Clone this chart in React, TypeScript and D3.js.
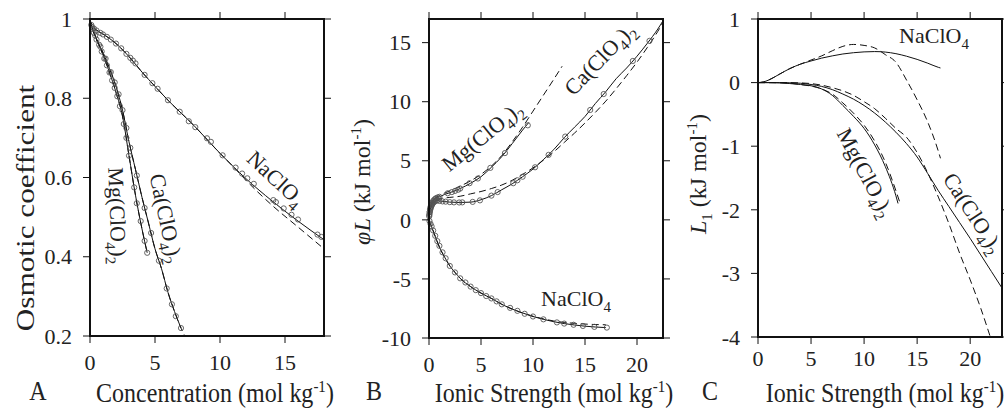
import React from "react";
import * as d3 from "d3";

type P = [number, number];

// ---- panel A : osmotic coefficient vs concentration (mol/kg)
const naOsmFit: P[] = [[0, 1], [0.1, 0.985], [0.5, 0.972], [1, 0.962], [2, 0.938], [3, 0.905], [4, 0.866], [5, 0.83], [6, 0.795], [8, 0.731], [10, 0.661], [12, 0.597], [14, 0.541], [16, 0.49], [18, 0.443]];
const naOsmAlt: P[] = [[0, 1], [0.1, 0.985], [0.5, 0.972], [1, 0.962], [2, 0.938], [3, 0.905], [4, 0.866], [5, 0.83], [6, 0.795], [8, 0.731], [10, 0.661], [11, 0.628], [12, 0.593], [14, 0.53], [16, 0.475], [18, 0.42]];
const naOsmObs: P[] = [[0.1, 0.985], [0.3, 0.976], [0.5, 0.971], [0.8, 0.965], [1.0, 0.961], [1.3, 0.955], [1.6, 0.948], [2.0, 0.938], [2.4, 0.926], [2.8, 0.912], [3.1, 0.902], [3.3, 0.895], [3.5, 0.888], [4.2, 0.859], [4.8, 0.838], [5.2, 0.824], [6.0, 0.795], [6.9, 0.766], [7.6, 0.742], [8.1, 0.727], [9.0, 0.699], [9.3, 0.69], [10.2, 0.656], [11.2, 0.625], [11.7, 0.61], [12.1, 0.598], [12.6, 0.584], [14.1, 0.543], [14.3, 0.538], [14.9, 0.522], [15.5, 0.506], [16.0, 0.494], [17.5, 0.456], [17.8, 0.45]];

const mgOsmFit: P[] = [[0, 1], [0.1, 0.985], [0.3, 0.965], [0.6, 0.94], [1, 0.91], [1.5, 0.865], [2, 0.815], [2.5, 0.755], [3, 0.655], [3.5, 0.555], [4, 0.47], [4.4, 0.41]];
const mgOsmObs: P[] = [[0.15, 0.98], [0.3, 0.965], [0.5, 0.948], [0.7, 0.935], [0.9, 0.918], [1.1, 0.9], [1.3, 0.883], [1.5, 0.865], [1.7, 0.845], [1.9, 0.826], [2.1, 0.805], [2.3, 0.78], [2.6, 0.735], [2.8, 0.7], [3.0, 0.655], [3.4, 0.575], [3.6, 0.535], [3.9, 0.49], [4.2, 0.44], [4.4, 0.41]];

const caOsmFit: P[] = [[0, 1], [0.1, 0.985], [0.3, 0.966], [0.6, 0.943], [1, 0.915], [1.5, 0.875], [2, 0.83], [2.5, 0.77], [3, 0.69], [3.5, 0.62], [4, 0.55], [4.5, 0.485], [5, 0.42], [5.5, 0.37], [6, 0.31], [6.5, 0.262], [7, 0.22]];
const caOsmAlt: P[] = [[0, 1], [0.1, 0.985], [0.3, 0.966], [0.6, 0.943], [1, 0.915], [1.5, 0.875], [2, 0.83], [2.5, 0.77], [3, 0.69], [3.5, 0.62], [4, 0.55], [4.5, 0.485], [5, 0.42], [5.5, 0.37], [6, 0.31], [6.5, 0.262], [7, 0.22], [7.3, 0.2]];
const caOsmObs: P[] = [[0.2, 0.975], [0.4, 0.958], [0.8, 0.93], [1.2, 0.9], [1.6, 0.866], [1.9, 0.84], [2.2, 0.81], [2.5, 0.77], [2.8, 0.725], [3.1, 0.675], [3.6, 0.605], [4.2, 0.523], [4.7, 0.46], [5.3, 0.39], [5.9, 0.32], [6.3, 0.28], [6.6, 0.25], [7.0, 0.22]];

// ---- panel B : phi L (kJ/mol) vs ionic strength
const naPhiFit: P[] = [[0, 0], [0.1, -0.25], [0.3, -0.7], [0.6, -1.4], [1, -2.3], [1.5, -3.15], [2, -3.9], [2.5, -4.45], [3, -4.95], [4, -5.65], [5, -6.2], [6, -6.65], [7, -7.15], [8, -7.55], [9, -7.88], [10, -8.18], [11, -8.42], [12, -8.62], [13, -8.78], [14, -8.9], [15, -9.0], [16, -9.07], [17, -9.12]];
const naPhiAlt: P[] = [[0, 0], [0.1, -0.25], [0.3, -0.7], [0.6, -1.4], [1, -2.3], [1.5, -3.15], [2, -3.9], [2.5, -4.45], [3, -4.95], [4, -5.65], [5, -6.2], [6, -6.65], [7, -7.15], [8, -7.55], [9, -7.88], [10, -8.16], [11, -8.38], [12, -8.56], [13, -8.68], [14, -8.76], [15, -8.82], [16, -8.86], [17, -8.88]];
const naPhiObs: P[] = [[0.05, -0.1], [0.15, -0.35], [0.25, -0.55], [0.4, -0.9], [0.6, -1.35], [0.8, -1.8], [1.0, -2.2], [1.3, -2.75], [1.6, -3.25], [2.0, -3.9], [2.5, -4.45], [3.0, -4.95], [3.5, -5.3], [4.0, -5.65], [4.5, -5.95], [5.0, -6.2], [5.5, -6.45], [6.0, -6.65], [6.5, -6.9], [7.0, -7.15], [7.8, -7.45], [8.5, -7.7], [9.2, -7.95], [10, -8.18], [11, -8.42], [12.3, -8.68], [13, -8.78], [13.9, -8.88], [14.8, -8.98], [15.9, -9.06], [17.1, -9.12]];

const caPhiFit: P[] = [[0, 0], [0.05, 0.5], [0.1, 0.8], [0.2, 1.1], [0.4, 1.45], [0.7, 1.65], [1, 1.6], [1.5, 1.55], [2, 1.5], [3, 1.47], [4, 1.5], [5, 1.7], [6, 2.05], [7, 2.55], [8, 3.05], [9, 3.65], [10, 4.3], [11, 5.1], [12, 5.95], [13, 6.95], [14, 7.85], [15, 8.75], [16, 9.85], [17, 10.85], [18, 11.95], [19, 12.85], [20, 13.85], [21, 14.95], [22, 16.15], [22.5, 16.85]];
const caPhiAlt: P[] = [[0, 0], [0.1, 0.8], [0.4, 1.5], [0.8, 1.75], [1.5, 1.85], [2, 1.9], [3, 2.0], [4, 2.2], [5, 2.4], [6, 2.65], [7, 2.95], [8, 3.35], [9, 3.85], [10, 4.4], [11, 5.05], [12, 5.75], [13, 6.55], [14, 7.35], [15, 8.2], [16, 9.1], [17, 10.05], [18, 11.1], [19, 12.2], [20, 13.35], [21, 14.6], [22, 15.95], [22.5, 16.7]];
const caPhiObs: P[] = [[0.02, 0.3], [0.05, 0.5], [0.08, 0.7], [0.12, 0.85], [0.16, 1.0], [0.2, 1.1], [0.25, 1.2], [0.3, 1.3], [0.35, 1.38], [0.45, 1.48], [0.55, 1.55], [0.65, 1.62], [0.8, 1.65], [1.0, 1.6], [1.3, 1.56], [1.6, 1.54], [2.0, 1.5], [2.4, 1.48], [2.9, 1.47], [3.2, 1.48], [4.2, 1.52], [4.9, 1.65], [6.0, 2.05], [6.6, 2.35], [8.1, 3.1], [8.5, 3.35], [9.0, 3.65], [10.2, 4.45], [11.5, 5.5], [13.1, 7.05], [15.5, 9.3], [16.8, 10.65], [19.6, 13.45], [21.2, 15.15]];

const mgPhiFit: P[] = [[0, 0], [0.05, 0.6], [0.1, 0.9], [0.2, 1.25], [0.4, 1.6], [0.7, 1.85], [1, 1.95], [1.5, 2.15], [2, 2.3], [3, 2.65], [4, 3.1], [5, 3.65], [6, 4.45], [7, 5.35], [8, 6.45], [9, 7.6], [9.6, 8.25]];
const mgPhiAlt: P[] = [[0, 0], [0.1, 0.9], [0.4, 1.65], [1, 2.05], [2, 2.45], [3, 2.85], [4, 3.3], [5, 3.85], [6, 4.55], [7, 5.45], [8, 6.6], [9, 7.85], [10, 9.2], [11, 10.55], [12, 11.9], [12.8, 13.0]];
const mgPhiObs: P[] = [[0.03, 0.4], [0.06, 0.65], [0.1, 0.9], [0.15, 1.1], [0.2, 1.25], [0.3, 1.45], [0.4, 1.6], [0.5, 1.7], [0.6, 1.78], [0.7, 1.85], [0.85, 1.9], [1.0, 1.95], [1.8, 2.25], [2.2, 2.35], [2.5, 2.45], [2.8, 2.55], [3.0, 2.65], [3.9, 3.1], [4.7, 3.5], [5.9, 4.4], [7.3, 5.65], [9.5, 8.0]];

// ---- panel C : L1 (kJ/mol) vs ionic strength
const naL1Fit: P[] = [[0, 0], [0.5, 0.01], [1, 0.04], [2, 0.13], [3, 0.22], [4, 0.29], [5, 0.34], [6, 0.385], [7, 0.42], [8, 0.45], [9, 0.47], [10, 0.483], [11, 0.488], [12, 0.48], [13, 0.455], [14, 0.415], [15, 0.365], [16, 0.305], [17, 0.24], [17.2, 0.23]];
const naL1Alt: P[] = [[0, 0], [0.5, 0.01], [1, 0.04], [2, 0.13], [3, 0.22], [4, 0.29], [5, 0.355], [6, 0.42], [7, 0.5], [8, 0.57], [9, 0.6], [10, 0.585], [11, 0.545], [12, 0.44], [13, 0.32], [14, 0.04], [15, -0.27], [16, -0.62], [17, -1.08], [17.2, -1.19]];
const mgL1Fit: P[] = [[0, 0], [1, 0], [2, -0.005], [3, -0.015], [4, -0.03], [5, -0.05], [6, -0.1], [7, -0.2], [8, -0.36], [9, -0.53], [10, -0.72], [11, -0.98], [12, -1.32], [13, -1.78], [13.2, -1.9]];
const mgL1Alt: P[] = [[0, 0], [2, 0], [4, -0.03], [6, -0.1], [7, -0.18], [8, -0.32], [9, -0.48], [10, -0.67], [11, -0.92], [12, -1.25], [13, -1.7], [13.4, -1.9]];
const caL1Fit: P[] = [[0, 0], [2, 0], [4, -0.01], [5, -0.03], [6, -0.06], [7, -0.11], [8, -0.18], [9, -0.26], [10, -0.36], [11, -0.48], [12, -0.62], [13, -0.78], [14, -0.96], [15, -1.17], [16, -1.43], [17, -1.7], [18, -1.95], [19, -2.2], [20, -2.45], [21, -2.71], [22, -2.97], [23, -3.23]];
const caL1Alt: P[] = [[0, 0], [2, 0], [4, -0.005], [6, -0.04], [7, -0.08], [8, -0.13], [9, -0.2], [10, -0.3], [11, -0.41], [12, -0.56], [13, -0.72], [14, -0.86], [15, -1.1], [16, -1.42], [17, -1.8], [18, -2.22], [19, -2.68], [20, -3.1], [21, -3.55], [21.9, -4.0]];

const osmTicks = [0.2, 0.4, 0.6, 0.8, 1];
const concTicks = [0, 5, 10, 15];
const phiTicks = [-10, -5, 0, 5, 10, 15];
const ionTicks = [0, 5, 10, 15, 20];
const l1Ticks = [-4, -3, -2, -1, 0, 1];

const FONT = "Liberation Serif";

type Series = { fit: P[]; alt?: P[]; obs?: P[] };
type Frame = { l: number; r: number; t: number; b: number };

function Panel(props: {
  id: string;
  frame: Frame;
  xDomain: [number, number];
  yDomain: [number, number];
  xTicks: number[];
  yTicks: number[];
  xLabelY: number;
  series: Series[];
}) {
  const { id, frame, xDomain, yDomain, xTicks, yTicks, xLabelY, series } = props;
  const x = d3.scaleLinear().domain(xDomain).range([frame.l, frame.r]);
  const y = d3.scaleLinear().domain(yDomain).range([frame.b, frame.t]);
  const line = d3
    .line<P>()
    .x((d) => x(d[0]))
    .y((d) => y(d[1]))
    .curve(d3.curveMonotoneX);
  const tk = 7;
  const fmt = (v: number) => String(+v.toFixed(1));

  return (
    <g>
      <defs>
        <clipPath id={id}>
          <rect x={frame.l} y={frame.t} width={frame.r - frame.l} height={frame.b - frame.t} />
        </clipPath>
      </defs>
      <g clipPath={`url(#${id})`}>
        {series.map((s, i) => (
          <g key={i}>
            {s.alt && (
              <path d={line(s.alt) || ""} fill="none" stroke="#111" strokeWidth={1} strokeDasharray="7,4" />
            )}
            <path d={line(s.fit) || ""} fill="none" stroke="#111" strokeWidth={1} />
          </g>
        ))}
      </g>
      {series.map((s, i) =>
        (s.obs || []).map((d, j) => (
          <circle key={i + "-" + j} cx={x(d[0])} cy={y(d[1])} r={2.6} fill="none" stroke="#555" strokeWidth={0.9} />
        ))
      )}
      <rect
        x={frame.l}
        y={frame.t}
        width={frame.r - frame.l}
        height={frame.b - frame.t}
        fill="none"
        stroke="#111"
        strokeWidth={2}
      />
      {xTicks.map((v) => (
        <g key={"x" + v}>
          <line x1={x(v)} x2={x(v)} y1={frame.b} y2={frame.b + tk} stroke="#111" />
          <line x1={x(v)} x2={x(v)} y1={frame.t} y2={frame.t - tk} stroke="#111" />
          <text x={x(v)} y={xLabelY} textAnchor="middle" fontSize={22} fontFamily={FONT} fill="#222">
            {fmt(v)}
          </text>
        </g>
      ))}
      {yTicks.map((v) => (
        <g key={"y" + v}>
          <line x1={frame.l - tk} x2={frame.l} y1={y(v)} y2={y(v)} stroke="#111" />
          <line x1={frame.r} x2={frame.r + tk} y1={y(v)} y2={y(v)} stroke="#111" />
          <text x={frame.l - 18} y={y(v)} dy="0.35em" textAnchor="end" fontSize={22} fontFamily={FONT} fill="#222">
            {fmt(v)}
          </text>
        </g>
      ))}
    </g>
  );
}

// chemical formula label, centred at (cx, cy), rotated by angle degrees
function Formula({ cx, cy, angle, parts }: { cx: number; cy: number; angle: number; parts: [string, boolean][] }) {
  let shift = 0;
  return (
    <text
      transform={`translate(${cx},${cy}) rotate(${angle})`}
      textAnchor="middle"
      dy="0.35em"
      fontSize={22}
      fontFamily={FONT}
      fill="#222"
    >
      {parts.map(([s, sub], i) => {
        const target = sub ? 6 : 0;
        const dy = target - shift;
        shift = target;
        return (
          <tspan key={i} dy={dy} fontSize={sub ? 15 : 22}>
            {s}
          </tspan>
        );
      })}
    </text>
  );
}

const NA: [string, boolean][] = [["NaClO", false], ["4", true]];
const CA: [string, boolean][] = [["Ca(ClO", false], ["4", true], [")", false], ["2", true]];
const MG: [string, boolean][] = [["Mg(ClO", false], ["4", true], [")", false], ["2", true]];

function UnitsTail() {
  return (
    <>
      <tspan>(mol kg</tspan>
      <tspan dy={-9} fontSize={15}>-1</tspan>
      <tspan dy={9}>)</tspan>
    </>
  );
}

function KJTail() {
  return (
    <>
      <tspan>(kJ mol</tspan>
      <tspan dy={-9} fontSize={15}>-1</tspan>
      <tspan dy={9}>)</tspan>
    </>
  );
}

export default function App() {
  const fA: Frame = { l: 90, r: 324, t: 19, b: 336 };
  const fB: Frame = { l: 429, r: 663, t: 19, b: 338 };
  const fC: Frame = { l: 758, r: 1002, t: 19, b: 337 };
  const title = { fontFamily: FONT, fontSize: 24, fill: "#222" } as const;

  return (
    <svg width={1004} height={411} style={{ position: "absolute", left: 0, top: 0, background: "#fff" }}>
      <rect width={1004} height={411} fill="#fff" />
      <Panel
        id="clipA"
        frame={fA}
        xDomain={[0, 18]}
        yDomain={[0.2, 1]}
        xTicks={concTicks}
        yTicks={osmTicks}
        xLabelY={370}
        series={[
          { fit: naOsmFit, alt: naOsmAlt, obs: naOsmObs },
          { fit: mgOsmFit, alt: mgOsmFit, obs: mgOsmObs },
          { fit: caOsmFit, alt: caOsmAlt, obs: caOsmObs },
        ]}
      />
      <Panel
        id="clipB"
        frame={fB}
        xDomain={[0, 22.5]}
        yDomain={[-10, 17]}
        xTicks={ionTicks}
        yTicks={phiTicks}
        xLabelY={372}
        series={[
          { fit: naPhiFit, alt: naPhiAlt, obs: naPhiObs },
          { fit: caPhiFit, alt: caPhiAlt, obs: caPhiObs },
          { fit: mgPhiFit, alt: mgPhiAlt, obs: mgPhiObs },
        ]}
      />
      <Panel
        id="clipC"
        frame={fC}
        xDomain={[0, 23]}
        yDomain={[-4, 1]}
        xTicks={ionTicks}
        yTicks={l1Ticks}
        xLabelY={366}
        series={[
          { fit: naL1Fit, alt: naL1Alt },
          { fit: mgL1Fit, alt: mgL1Alt },
          { fit: caL1Fit, alt: caL1Alt },
        ]}
      />

      {/* curve labels */}
      <Formula cx={271} cy={184} angle={43} parts={NA} />
      <Formula cx={159} cy={220} angle={78} parts={CA} />
      <Formula cx={110} cy={216} angle={88} parts={MG} />
      <Formula cx={487} cy={142} angle={-39} parts={MG} />
      <Formula cx={605} cy={64} angle={-46} parts={CA} />
      <Formula cx={576} cy={306} angle={0} parts={NA} />
      <Formula cx={934} cy={43} angle={0} parts={NA} />
      <Formula cx={859} cy={176} angle={62} parts={MG} />
      <Formula cx={967} cy={217} angle={57} parts={CA} />

      {/* axis titles */}
      <g transform="translate(34,208) rotate(-90) scale(1.25,1)">
        <text textAnchor="middle" {...title} fontSize={25}>Osmotic coefficient</text>
      </g>
      <g transform="translate(370,182) rotate(-90)">
        <text textAnchor="middle" {...title}>
          <tspan fontStyle="italic">φL</tspan> <KJTail />
        </text>
      </g>
      <g transform="translate(706,174) rotate(-90)">
        <text textAnchor="middle" {...title}>
          <tspan fontStyle="italic">L</tspan>
          <tspan dy={6} fontSize={15}>1</tspan>
          <tspan dy={-6}> </tspan>
          <KJTail />
        </text>
      </g>

      <g transform="translate(215,402) scale(1,1.15)">
        <text textAnchor="middle" {...title}>Concentration <UnitsTail /></text>
      </g>
      <g transform="translate(554,402) scale(1,1.15)">
        <text textAnchor="middle" {...title}>Ionic Strength <UnitsTail /></text>
      </g>
      <g transform="translate(885,402) scale(1,1.15)">
        <text textAnchor="middle" {...title}>Ionic Strength <UnitsTail /></text>
      </g>

      <g transform="translate(38,400) scale(1,1.15)">
        <text textAnchor="middle" {...title}>A</text>
      </g>
      <g transform="translate(374,400) scale(1,1.15)">
        <text textAnchor="middle" {...title}>B</text>
      </g>
      <g transform="translate(710,400) scale(1,1.15)">
        <text textAnchor="middle" {...title}>C</text>
      </g>
    </svg>
  );
}
